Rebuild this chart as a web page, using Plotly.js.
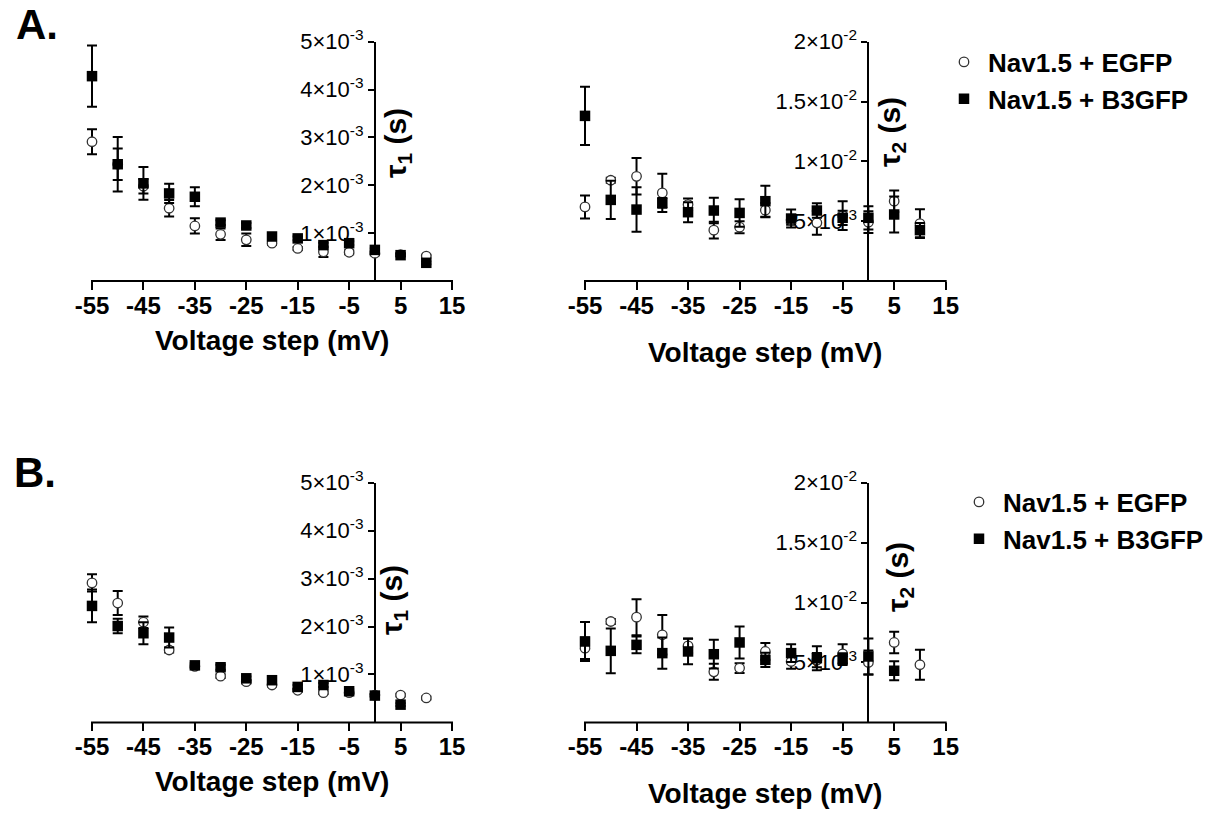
<!DOCTYPE html>
<html>
<head>
<meta charset="utf-8">
<script src="https://cdn.plot.ly/plotly-3.0.1.min.js"></script>
<style>
  html, body { margin: 0; padding: 0; background: #fff; }
  #chart { width: 1215px; height: 814px; }
</style>
</head>
<body>
<div id="chart"></div>
<script>
// ---------- data (time constants in seconds) ----------
const voltage = [-55, -50, -45, -40, -35, -30, -25, -20, -15, -10, -5, 0, 5, 10];
const voltageTicks = [-55, -45, -35, -25, -15, -5, 5, 15];

const seriesNames = ['Nav1.5 + EGFP', 'Nav1.5 + B3GFP'];

// Panel A, tau1
const aTau1EGFP      = [2.91e-3, 2.44e-3, 1.98e-3, 1.52e-3, 1.15e-3, 0.975e-3, 0.86e-3, 0.79e-3, 0.68e-3, 0.61e-3, 0.60e-3, 0.58e-3, 0.55e-3, 0.52e-3];
const aTau1EGFPErr   = [0.26e-3, 0.33e-3, 0.15e-3, 0.17e-3, 0.16e-3, 0.12e-3, 0.13e-3, 0.04e-3, 0.03e-3, 0.11e-3, 0.04e-3, 0.04e-3, 0.03e-3, 0.03e-3];
const aTau1B3GFP     = [4.28e-3, 2.44e-3, 2.04e-3, 1.83e-3, 1.76e-3, 1.22e-3, 1.16e-3, 0.93e-3, 0.89e-3, 0.75e-3, 0.79e-3, 0.65e-3, 0.54e-3, 0.38e-3];
const aTau1B3GFPErr  = [0.64e-3, 0.57e-3, 0.34e-3, 0.20e-3, 0.20e-3, 0.05e-3, 0.05e-3, 0.04e-3, 0.04e-3, 0.05e-3, 0.04e-3, 0.03e-3, 0.03e-3, 0.03e-3];

// Panel A, tau2
const aTau2EGFP      = [6.19e-3, 8.42e-3, 8.75e-3, 7.36e-3, 6.39e-3, 4.25e-3, 4.50e-3, 5.92e-3, 5.10e-3, 4.86e-3, 5.47e-3, 4.92e-3, 6.67e-3, 4.80e-3];
const aTau2EGFPErr   = [0.96e-3, 0.20e-3, 1.53e-3, 1.60e-3, 0.50e-3, 0.70e-3, 0.50e-3, 0.60e-3, 0.40e-3, 1.00e-3, 1.20e-3, 0.90e-3, 0.90e-3, 1.20e-3];
const aTau2B3GFP     = [13.8e-3, 6.78e-3, 5.97e-3, 6.53e-3, 5.75e-3, 5.89e-3, 5.69e-3, 6.67e-3, 5.22e-3, 5.89e-3, 5.28e-3, 5.28e-3, 5.56e-3, 4.25e-3];
const aTau2B3GFPErr  = [2.43e-3, 1.60e-3, 1.86e-3, 0.40e-3, 0.83e-3, 1.06e-3, 1.15e-3, 1.30e-3, 0.75e-3, 0.60e-3, 0.60e-3, 0.97e-3, 1.50e-3, 0.60e-3];

// Panel B, tau1
const bTau1EGFP      = [2.91e-3, 2.49e-3, 2.09e-3, 1.51e-3, 1.17e-3, 0.965e-3, 0.85e-3, 0.78e-3, 0.67e-3, 0.62e-3, 0.62e-3, 0.57e-3, 0.57e-3, 0.51e-3];
const bTau1EGFPErr   = [0.18e-3, 0.25e-3, 0.12e-3, 0.05e-3, 0.04e-3, 0.04e-3, 0.04e-3, 0.03e-3, 0.03e-3, 0.03e-3, 0.03e-3, 0.03e-3, 0.03e-3, 0.03e-3];
const bTau1B3GFP     = [2.43e-3, 2.01e-3, 1.86e-3, 1.77e-3, 1.19e-3, 1.15e-3, 0.92e-3, 0.88e-3, 0.74e-3, 0.78e-3, 0.65e-3, 0.56e-3, 0.37e-3, null];
const bTau1B3GFPErr  = [0.34e-3, 0.15e-3, 0.23e-3, 0.21e-3, 0.05e-3, 0.05e-3, 0.04e-3, 0.04e-3, 0.04e-3, 0.04e-3, 0.04e-3, 0.03e-3, 0.03e-3, null];

// Panel B, tau2
const bTau2EGFP      = [6.19e-3, 8.42e-3, 8.78e-3, 7.31e-3, 6.39e-3, 4.22e-3, 4.53e-3, 5.92e-3, 5.08e-3, 5.20e-3, 5.72e-3, 5.00e-3, 6.67e-3, 4.81e-3];
const bTau2EGFPErr   = [0.90e-3, 0.20e-3, 1.50e-3, 1.65e-3, 0.60e-3, 0.67e-3, 0.40e-3, 0.70e-3, 0.60e-3, 0.60e-3, 0.80e-3, 1.00e-3, 0.90e-3, 1.25e-3];
const bTau2B3GFP     = [6.75e-3, 5.97e-3, 6.47e-3, 5.78e-3, 5.92e-3, 5.69e-3, 6.67e-3, 5.22e-3, 5.78e-3, 5.36e-3, 5.28e-3, 5.50e-3, 4.31e-3, null];
const bTau2B3GFPErr  = [1.63e-3, 1.86e-3, 0.70e-3, 1.30e-3, 1.06e-3, 1.20e-3, 1.33e-3, 0.60e-3, 0.75e-3, 1.00e-3, 0.50e-3, 1.50e-3, 0.80e-3, null];

// axis ticks
const tau1TickVals = [1e-3, 2e-3, 3e-3, 4e-3, 5e-3];
const tau1TickText = ['1×10<sup>-3</sup>', '2×10<sup>-3</sup>', '3×10<sup>-3</sup>', '4×10<sup>-3</sup>', '5×10<sup>-3</sup>'];
const tau2TickVals = [5e-3, 10e-3, 15e-3, 20e-3];
const tau2TickText = ['5×10<sup>-3</sup>', '1×10<sup>-2</sup>', '1.5×10<sup>-2</sup>', '2×10<sup>-2</sup>'];

// ---------- styling ----------
const FONT = 'Liberation Sans, Arial, Helvetica, sans-serif';
const W = 1215, H = 814;
const px = v => v / W;
const py = v => 1 - v / H;

// x range starts a little before -55 so the first error bars are not clipped;
// the visible axis line is drawn from -55 to 15 as a shape.
const X_MIN = -57, X_MAX = 15;

function errBar(arr) {
  return { type: 'data', array: arr, visible: true, color: '#000', thickness: 2, width: 5 };
}
function egfpTrace(y, err, xa, ya, legend, show) {
  return {
    x: voltage, y: y, xaxis: xa, yaxis: ya, type: 'scatter', mode: 'markers',
    name: seriesNames[0], legend: legend, showlegend: show, cliponaxis: false,
    marker: { symbol: 'circle', size: 9.5, color: '#fff', line: { color: '#333', width: 1.3 } },
    error_y: errBar(err)
  };
}
function b3Trace(y, err, xa, ya, legend, show) {
  return {
    x: voltage, y: y, xaxis: xa, yaxis: ya, type: 'scatter', mode: 'markers',
    name: seriesNames[1], legend: legend, showlegend: show, cliponaxis: false,
    marker: { symbol: 'square', size: 10.5, color: '#000', line: { width: 0 } },
    error_y: errBar(err)
  };
}

const data = [
  egfpTrace(aTau1EGFP, aTau1EGFPErr, 'x', 'y', 'legend', true),
  b3Trace(aTau1B3GFP, aTau1B3GFPErr, 'x', 'y', 'legend', true),
  egfpTrace(aTau2EGFP, aTau2EGFPErr, 'x2', 'y2', 'legend', false),
  b3Trace(aTau2B3GFP, aTau2B3GFPErr, 'x2', 'y2', 'legend', false),
  egfpTrace(bTau1EGFP, bTau1EGFPErr, 'x3', 'y3', 'legend2', true),
  b3Trace(bTau1B3GFP, bTau1B3GFPErr, 'x3', 'y3', 'legend2', true),
  egfpTrace(bTau2EGFP, bTau2EGFPErr, 'x4', 'y4', 'legend2', false),
  b3Trace(bTau2B3GFP, bTau2B3GFPErr, 'x4', 'y4', 'legend2', false)
];

function xAxis(domain, anchor) {
  return {
    domain: domain, anchor: anchor, range: [X_MIN, X_MAX],
    tickmode: 'array', tickvals: voltageTicks, ticktext: voltageTicks.map(String),
    showline: false,
    ticks: 'outside', ticklen: 8, tickwidth: 2, tickcolor: '#000',
    ticklabelstandoff: -5,
    tickfont: { family: FONT, size: 24, color: '#000', weight: 'bold' },
    showgrid: false, zeroline: false, layer: 'below traces', fixedrange: true
  };
}
function yAxis(domain, position, range, vals, text) {
  return {
    domain: domain, anchor: 'free', position: position, range: range,
    tickmode: 'array', tickvals: vals, ticktext: text,
    showline: true, linewidth: 2, linecolor: '#000',
    ticks: 'outside', ticklen: 6, tickwidth: 2, tickcolor: '#000',
    tickfont: { family: FONT, size: 22, color: '#000' },
    showgrid: false, zeroline: false, layer: 'below traces', fixedrange: true
  };
}

// pixel geometry: -55 mV at x=92 (left) / 585 (right), 15 mV at 452 / 945.7
const leftScale = 360 / 70, rightScale = 360.7 / 70;
const leftX = [px(92 - (-55 - X_MIN) * leftScale), px(452)];
const rightX = [px(585 - (-55 - X_MIN) * rightScale), px(945.7)];
const topY = [py(281), py(41.7)];
const botY = [py(722.4), py(482.7)];

function ann(text, x, y, size, opts) {
  return Object.assign({
    text: text, x: x, y: y, xref: 'paper', yref: 'paper', showarrow: false,
    xanchor: 'center', yanchor: 'middle',
    font: { family: FONT, size: size, color: '#000', weight: 'bold' }
  }, opts || {});
}
function axisLine(x0, x1, yref) {
  return { type: 'line', xref: 'paper', yref: yref, x0: x0, x1: x1, y0: 0, y1: 0,
           line: { color: '#000', width: 2 }, layer: 'below' };
}

const legendFont = { family: FONT, size: 26, color: '#000', weight: 'bold' };

const layout = {
  width: W, height: H,
  margin: { l: 0, r: 0, t: 0, b: 0, pad: 0 },
  paper_bgcolor: '#fff', plot_bgcolor: 'rgba(0,0,0,0)',
  showlegend: true,
  xaxis: xAxis(leftX, 'y'),
  yaxis: yAxis(topY, px(374.9), [0, 5e-3], tau1TickVals, tau1TickText),
  xaxis2: xAxis(rightX, 'y2'),
  yaxis2: yAxis(topY, px(868.4), [0, 20e-3], tau2TickVals, tau2TickText),
  xaxis3: xAxis(leftX, 'y3'),
  yaxis3: yAxis(botY, px(374.9), [0, 5e-3], tau1TickVals, tau1TickText),
  xaxis4: xAxis(rightX, 'y4'),
  yaxis4: yAxis(botY, px(868.4), [0, 20e-3], tau2TickVals, tau2TickText),
  shapes: [
    axisLine(px(91), px(453), 'y domain'),
    axisLine(px(584), px(946.7), 'y2 domain'),
    axisLine(px(91), px(453), 'y3 domain'),
    axisLine(px(584), px(946.7), 'y4 domain')
  ],
  legend: {
    x: px(940), y: py(80.5), xanchor: 'left', yanchor: 'middle',
    bgcolor: 'rgba(0,0,0,0)', borderwidth: 0, itemwidth: 38, font: legendFont
  },
  legend2: {
    x: px(955), y: py(520.5), xanchor: 'left', yanchor: 'middle',
    bgcolor: 'rgba(0,0,0,0)', borderwidth: 0, itemwidth: 38, font: legendFont
  },
  annotations: [
    ann('A.', px(14), py(24), 42, { xanchor: 'left' }),
    ann('B.', px(12), py(472), 42, { xanchor: 'left' }),
    ann('Voltage step (mV)', px(272), py(341), 28),
    ann('Voltage step (mV)', px(765), py(353), 28),
    ann('Voltage step (mV)', px(272), py(781), 28),
    ann('Voltage step (mV)', px(765), py(793), 28),
    ann('τ<sub>1</sub> (s)', px(398), py(143), 30, { textangle: -90 }),
    ann('τ<sub>2</sub> (s)', px(891), py(132), 30, { textangle: -90 }),
    ann('τ<sub>1</sub> (s)', px(393), py(600), 30, { textangle: -90 }),
    ann('τ<sub>2</sub> (s)', px(899), py(577), 30, { textangle: -90 })
  ]
};

Plotly.newPlot('chart', data, layout, { staticPlot: true, displayModeBar: false });
</script>
</body>
</html>
